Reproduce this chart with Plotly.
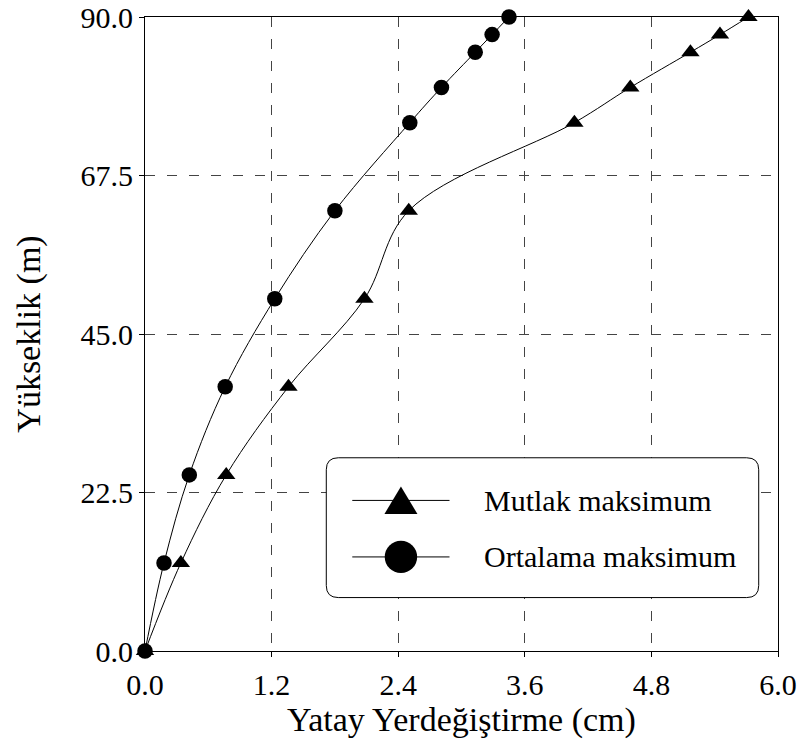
import plotly.graph_objects as go

# ---- data ----
heights = [0, 12.5, 25, 37.5, 50, 62.5, 75, 80, 85, 87.5, 90]
mutlak_max = [0.0, 0.34, 0.77, 1.36, 2.08, 2.50, 4.07, 4.60, 5.17, 5.45, 5.72]
ortalama_max = [0.0, 0.18, 0.42, 0.76, 1.23, 1.80, 2.51, 2.81, 3.13, 3.29, 3.45]
x_ticks = [0.0, 1.2, 2.4, 3.6, 4.8, 6.0]
y_ticks = [0.0, 22.5, 45.0, 67.5, 90.0]
series_names = ["Mutlak maksimum", "Ortalama maksimum"]

FONT = "Times New Roman, Liberation Serif, serif"
W, H = 803, 749
# plot area in window pixels (from reference): x 144.6..778, y 16.6..651.5
L, T = 144.6, 16.6
R = W - 778
B = H - 651.5
PW, PH = W - L - R, H - T - B

def px2paper(px, py):
    return (px - L) / PW, (H - B - py) / PH

fig = go.Figure()
fig.add_trace(go.Scatter(
    x=mutlak_max, y=heights, mode="lines+markers", name=series_names[0],
    line=dict(color="black", width=1, shape="spline", smoothing=1),
    marker=dict(symbol="triangle-up", size=16, color="black"),
    showlegend=False, cliponaxis=False))
fig.add_trace(go.Scatter(
    x=ortalama_max, y=heights, mode="lines+markers", name=series_names[1],
    line=dict(color="black", width=1, shape="spline", smoothing=1),
    marker=dict(symbol="circle", size=15.5, color="black"),
    showlegend=False, cliponaxis=False))

# ---- manual legend (rounded box) ----
bx0, by0, bx1, by1 = 326, 458, 758.7, 598
rr = 12
def P(px, py):
    x, y = px2paper(px, py)
    return f"{x:.5f},{y:.5f}"
path = (f"M {P(bx0+rr, by0)} L {P(bx1-rr, by0)} Q {P(bx1, by0)} {P(bx1, by0+rr)} "
        f"L {P(bx1, by1-rr)} Q {P(bx1, by1)} {P(bx1-rr, by1)} "
        f"L {P(bx0+rr, by1)} Q {P(bx0, by1)} {P(bx0, by1-rr)} "
        f"L {P(bx0, by0+rr)} Q {P(bx0, by0)} {P(bx0+rr, by0)} Z")
shapes = [dict(type="path", xref="paper", yref="paper", path=path,
               fillcolor="white", line=dict(color="black", width=1), layer="above")]

rows = [500.7, 557.3]
lx0, lx1, mx = 352, 449.3, 400.7
for ry in rows:
    x0, y0 = px2paper(lx0, ry)
    x1, _ = px2paper(lx1, ry)
    shapes.append(dict(type="line", xref="paper", yref="paper", x0=x0, x1=x1, y0=y0, y1=y0,
                       line=dict(color="black", width=1), layer="above"))
tri = f"M {P(mx-16.5, 514.3)} L {P(mx+16.5, 514.3)} L {P(mx, 486.7)} Z"
shapes.append(dict(type="path", xref="paper", yref="paper", path=tri,
                   fillcolor="black", line=dict(color="black", width=0), layer="above"))
cx0, cy0 = px2paper(mx - 16.2, rows[1] + 16.2)
cx1, cy1 = px2paper(mx + 16.2, rows[1] - 16.2)
shapes.append(dict(type="circle", xref="paper", yref="paper", x0=cx0, x1=cx1, y0=cy0, y1=cy1,
                   fillcolor="black", line=dict(color="black", width=0), layer="above"))

annotations = []
for name, ry in zip(series_names, rows):
    ax, ay = px2paper(482.3, ry)
    annotations.append(dict(x=ax, y=ay, xref="paper", yref="paper", text=name,
                            showarrow=False, xanchor="left", yanchor="middle",
                            font=dict(family=FONT, size=30, color="black")))

grid = dict(showgrid=True, gridcolor="#444444", gridwidth=1, griddash="10px,12px")

fig.update_layout(
    width=W, height=H,
    margin=dict(l=L, r=R, t=T, b=B, pad=0, autoexpand=False),
    plot_bgcolor="white", paper_bgcolor="white",
    font=dict(family=FONT, size=30, color="black"),
    shapes=shapes, annotations=annotations,
    xaxis=dict(range=[0, 6.0], tickvals=x_ticks, ticktext=[f"{v:.1f}" for v in x_ticks],
               showline=True, linecolor="black", linewidth=1, mirror=True,
               ticks="outside", ticklen=5, tickcolor="black", zeroline=False, automargin=False,
               ticklabelstandoff=2, ticklabeloverflow="allow",
               title=dict(text="Yatay Yerdeğiştirme (cm)", font=dict(size=34), standoff=2),
               **grid),
    yaxis=dict(range=[0, 90], tickvals=y_ticks, ticktext=[f"{v:.1f}" for v in y_ticks],
               showline=True, linecolor="black", linewidth=1, mirror=True,
               ticks="outside", ticklen=5, tickcolor="black", zeroline=False, automargin=False,
               ticklabeloverflow="allow",
               title=dict(text="Yükseklik (m)", font=dict(size=34), standoff=29),
               **grid),
)

fig.write_html("out.html", config={"displayModeBar": False},
               post_script="document.body.style.margin='0';document.body.style.overflow='hidden';")
